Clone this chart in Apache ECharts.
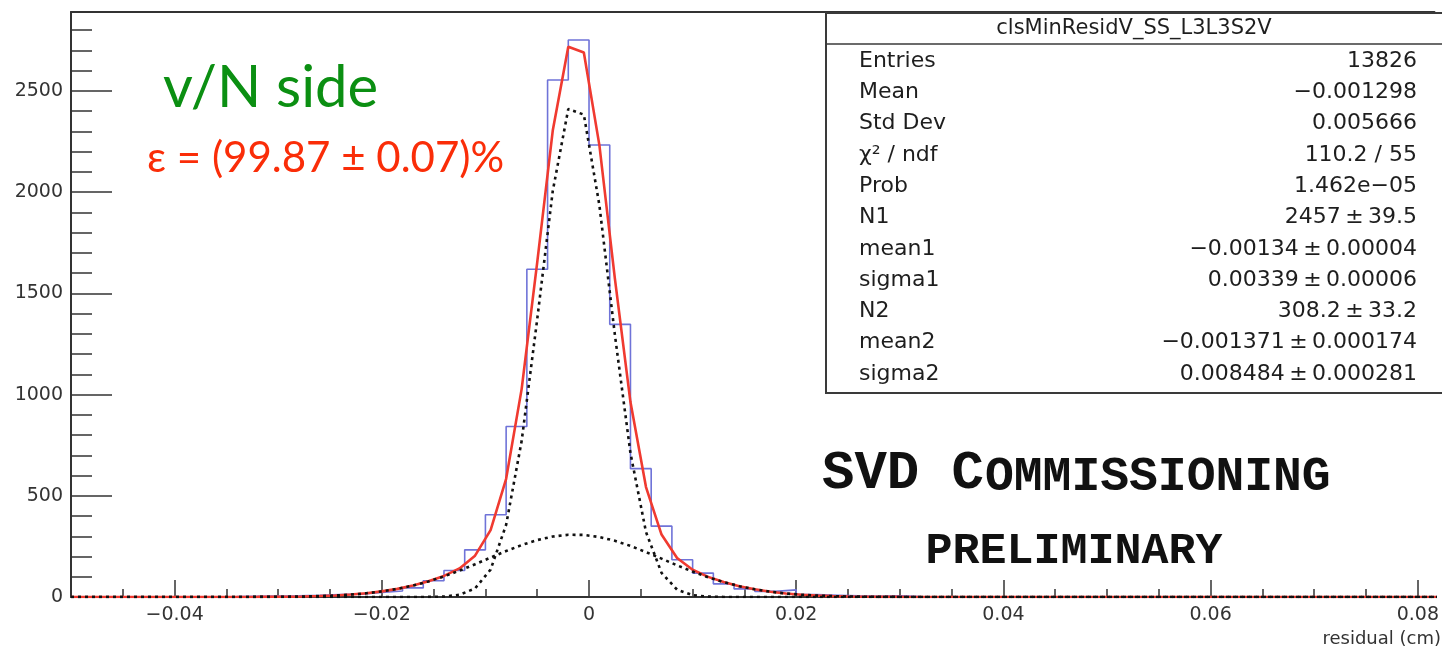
<!DOCTYPE html>
<html>
<head>
<meta charset="utf-8">
<script src="https://cdn.jsdelivr.net/npm/echarts@6.0.0/dist/echarts.min.js"></script>
<style>
  html, body { margin: 0; padding: 0; background: #ffffff; }
  #chart { width: 1442px; height: 650px; }
</style>
</head>
<body>
<div id="chart"></div>
<script>
// Residual histogram (bin width 0.002 cm): lower bin edges and counts
const histLowEdges = [-0.040, -0.038, -0.036, -0.034, -0.032, -0.030, -0.028, -0.026, -0.024, -0.022,
                      -0.020, -0.018, -0.016, -0.014, -0.012, -0.010, -0.008, -0.006, -0.004, -0.002,
                       0.000,  0.002,  0.004,  0.006,  0.008,  0.010,  0.012,  0.014,  0.016,  0.018,
                       0.020,  0.022,  0.024,  0.026,  0.028,  0.030,  0.032];
const histCounts   = [0, 1, 2, 4, 5, 6, 8, 12, 14, 22,
                      30, 45, 80, 131, 233, 406, 842, 1619, 2554, 2752,
                      2233, 1347, 634, 350, 184, 118, 65, 40, 28, 35,
                      12, 9, 6, 4, 6, 2, 0];
const histRange = [-0.05, 0.1];

// Double-gaussian fit as drawn (polyline samples): total, narrow core and wide tail
const fitX = [-0.05, -0.035, -0.0335, -0.032, -0.0305, -0.029, -0.0275, -0.026, -0.0245, -0.023,
              -0.0215, -0.020, -0.0185, -0.017, -0.0155, -0.014, -0.0125, -0.011, -0.0095, -0.008,
              -0.0065, -0.005, -0.0035, -0.002, -0.0005, 0.001, 0.0025, 0.004, 0.0055, 0.007,
              0.0085, 0.010, 0.0115, 0.013, 0.0145, 0.016, 0.0175, 0.019, 0.0205, 0.022,
              0.0235, 0.025, 0.0265, 0.028, 0.0295, 0.031, 0.1];
const fitTotal = [0, 0.1, 0.2, 0.5, 0.9, 1.5, 2.7, 4.6, 7.5, 12.0,
                  18.5, 27.7, 40.1, 56.6, 77.4, 104.1, 141.3, 204.2, 330.4, 583.8,
                  1028.2, 1653.3, 2304.3, 2718.4, 2689.6, 2232.4, 1571.3, 962.8, 542.9, 308.5,
                  193.0, 134.6, 99.4, 73.7, 53.6, 37.9, 26.0, 17.3, 11.1, 6.9,
                  4.2, 2.5, 1.4, 0.8, 0.4, 0.2, 0];
const fitCore = [0, 0, 0, 0, 0, 0, 0, 0, 0, 0,
                 0, 0, 0, 0.1, 0.4, 2.3, 10.9, 42.4, 135.6, 356.7,
                 771.5, 1372, 2005.7, 2411, 2383, 1936, 1293.6, 710.6, 320.9, 119.1,
                 36.4, 9.1, 1.9, 0.3, 0, 0, 0, 0, 0, 0,
                 0, 0, 0, 0, 0, 0, 0];
const fitTail = [0, 0.1, 0.2, 0.5, 0.9, 1.5, 2.7, 4.6, 7.5, 12.0,
                 18.5, 27.7, 40.1, 56.5, 77.0, 101.8, 130.4, 161.8, 194.8, 227.1,
                 256.7, 281.3, 298.6, 307.4, 306.6, 296.4, 277.7, 252.2, 222.0, 189.4,
                 156.6, 125.5, 97.5, 73.4, 53.6, 37.9, 26.0, 17.3, 11.1, 6.9,
                 4.2, 2.5, 1.4, 0.8, 0.4, 0.2, 0];

// Axis ticks and labels
const xMajorTicks = [-0.04, -0.02, 0, 0.02, 0.04, 0.06, 0.08];
const xTickLabels = ['\u22120.04', '\u22120.02', '0', '0.02', '0.04', '0.06', '0.08'];
const xMinorTicks = [-0.045, -0.035, -0.03, -0.025, -0.015, -0.01, -0.005, 0.005, 0.01, 0.015,
                     0.025, 0.03, 0.035, 0.045, 0.05, 0.055, 0.065, 0.07, 0.075];
const yMajorTicks = [0, 500, 1000, 1500, 2000, 2500];
const yTickLabels = ['0', '500', '1000', '1500', '2000', '2500'];
const yMinorTicks = [100, 200, 300, 400, 600, 700, 800, 900, 1100, 1200, 1300, 1400,
                     1600, 1700, 1800, 1900, 2100, 2200, 2300, 2400, 2600, 2700, 2800];
const xAxisTitle = 'residual (cm)';

// Statistics box
const statTitle = 'clsMinResidV_SS_L3L3S2V';
const statLabels = ['Entries', 'Mean', 'Std Dev', '\u03c7\u00b2 / ndf', 'Prob', 'N1',
                    'mean1', 'sigma1', 'N2', 'mean2', 'sigma2'];
const statValues = ['13826', '\u22120.001298', '0.005666', '110.2 / 55', '1.462e\u221205',
                    '2457\u2009\u00b1\u200939.5', '\u22120.00134\u2009\u00b1\u20090.00004',
                    '0.00339\u2009\u00b1\u20090.00006', '308.2\u2009\u00b1\u200933.2',
                    '\u22120.001371\u2009\u00b1\u20090.000174', '0.008484\u2009\u00b1\u20090.000281'];

// Annotations
const sideLabel = 'v/N side';
const efficiencyLabel = '\u03b5 = (99.87 \u00b1 0.07)%';
const stampBig = 'SVD C';
const stampSmall = 'OMMISSIONING';
const stampSub = 'PRELIMINARY';

const X_MIN = -0.05, X_MAX = 0.0816, Y_MIN = 0, Y_MAX = 2890;
const AXIS_COLOR = '#333333';
const LABEL_FONT = "'DejaVu Sans', sans-serif";

const histData = [[histRange[0], 0]]
  .concat(histLowEdges.map((e, i) => [e, histCounts[i]]))
  .concat([[histRange[1], 0]]);
const toPairs = (ys) => fitX.map((x, i) => [x, ys[i]]);

function xLabel(v) {
  const i = xMajorTicks.findIndex(t => Math.abs(t - v) < 1e-9);
  return i >= 0 ? xTickLabels[i] : '';
}
function yLabel(v) {
  const i = yMajorTicks.findIndex(t => Math.abs(t - v) < 1e-6);
  return i >= 0 ? yTickLabels[i] : '';
}

const chart = echarts.init(document.getElementById('chart'), null, { renderer: 'canvas' });

// stats box elements
const statElems = [
  { type: 'rect', z: 50, shape: { x: 826, y: 13, width: 640, height: 380 },
    style: { fill: '#ffffff', stroke: '#3a3a3a', lineWidth: 2 } },
  { type: 'line', z: 51, shape: { x1: 826, y1: 44, x2: 1460, y2: 44 },
    style: { stroke: '#3a3a3a', lineWidth: 1.5 } },
  { type: 'text', z: 52, x: 1134, y: 29,
    style: { text: statTitle, fill: '#1e1e1e', font: "21px " + LABEL_FONT,
             align: 'center', textAlign: 'center', verticalAlign: 'middle', textVerticalAlign: 'middle' } }
];
statLabels.forEach((lab, i) => {
  const y = 61 + 31.3 * i;
  statElems.push({ type: 'text', z: 52, x: 859, y: y,
    style: { text: lab, fill: '#1e1e1e', font: "22px " + LABEL_FONT,
             align: 'left', textAlign: 'left', verticalAlign: 'middle', textVerticalAlign: 'middle' } });
  statElems.push({ type: 'text', z: 52, x: 1417, y: y,
    style: { text: statValues[i], fill: '#1e1e1e', font: "22px " + LABEL_FONT,
             align: 'right', textAlign: 'right', verticalAlign: 'middle', textVerticalAlign: 'middle' } });
});

const annotationElems = [
  { type: 'text', z: 40, x: 163, y: 88,
    style: { text: sideLabel, fill: '#0b8f12', font: "58px Lato, 'Open Sans', sans-serif",
             align: 'left', textAlign: 'left', verticalAlign: 'middle', textVerticalAlign: 'middle' } },
  { type: 'text', z: 40, x: 147, y: 158,
    style: { text: efficiencyLabel, fill: '#fa2d08', font: "42px Lato, 'Open Sans', sans-serif",
             align: 'left', textAlign: 'left', verticalAlign: 'middle', textVerticalAlign: 'middle' } },
  { type: 'text', z: 40, x: 822, y: 474,
    style: { text: stampBig, fill: '#111111', font: "bold 54px 'Liberation Mono', monospace",
             align: 'left', textAlign: 'left', verticalAlign: 'middle', textVerticalAlign: 'middle' } },
  { type: 'text', z: 40, x: 985, y: 478,
    style: { text: stampSmall, fill: '#111111', font: "bold 48px 'Liberation Mono', monospace",
             align: 'left', textAlign: 'left', verticalAlign: 'middle', textVerticalAlign: 'middle' } },
  { type: 'text', z: 40, x: 1074, y: 552,
    style: { text: stampSub, fill: '#111111', font: "bold 45px 'Liberation Mono', monospace",
             align: 'center', textAlign: 'center', verticalAlign: 'middle', textVerticalAlign: 'middle' } },
  { type: 'text', z: 40, x: 1441, y: 639,
    style: { text: xAxisTitle, fill: '#333333', font: "18px " + LABEL_FONT,
             align: 'right', textAlign: 'right', verticalAlign: 'middle', textVerticalAlign: 'middle' } }
];

const option = {
  animation: false,
  backgroundColor: '#ffffff',
  grid: { left: 71, right: 0, top: 12, bottom: 53, containLabel: false },
  xAxis: [
    { type: 'value', position: 'bottom', min: X_MIN, max: X_MAX,
      axisLine: { show: true, onZero: false, lineStyle: { color: AXIS_COLOR, width: 2 } },
      axisTick: { show: true, inside: true, length: 17, customValues: xMajorTicks,
                  lineStyle: { color: AXIS_COLOR, width: 1.5 } },
      axisLabel: { show: true, customValues: xMajorTicks, formatter: xLabel, margin: 9,
                   fontFamily: LABEL_FONT, fontSize: 19, color: '#333333' },
      splitLine: { show: false } },
    { type: 'value', position: 'bottom', min: X_MIN, max: X_MAX,
      axisLine: { show: false, onZero: false },
      axisTick: { show: true, inside: true, length: 8, customValues: xMinorTicks,
                  lineStyle: { color: AXIS_COLOR, width: 1.5 } },
      axisLabel: { show: false }, splitLine: { show: false } },
    { type: 'value', position: 'top', min: X_MIN, max: X_MAX,
      axisLine: { show: true, onZero: false, lineStyle: { color: AXIS_COLOR, width: 2 } },
      axisTick: { show: false }, axisLabel: { show: false }, splitLine: { show: false } }
  ],
  yAxis: [
    { type: 'value', position: 'left', min: Y_MIN, max: Y_MAX,
      axisLine: { show: true, onZero: false, lineStyle: { color: AXIS_COLOR, width: 2 } },
      axisTick: { show: true, inside: true, length: 41, customValues: yMajorTicks,
                  lineStyle: { color: AXIS_COLOR, width: 1.5 } },
      axisLabel: { show: true, customValues: yMajorTicks, formatter: yLabel, margin: 8,
                   fontFamily: LABEL_FONT, fontSize: 19, color: '#333333' },
      splitLine: { show: false } },
    { type: 'value', position: 'left', min: Y_MIN, max: Y_MAX,
      axisLine: { show: false, onZero: false },
      axisTick: { show: true, inside: true, length: 21, customValues: yMinorTicks,
                  lineStyle: { color: AXIS_COLOR, width: 1.5 } },
      axisLabel: { show: false }, splitLine: { show: false } }
  ],
  series: [
    { name: 'residual', type: 'line', xAxisIndex: 0, yAxisIndex: 0, data: histData,
      step: 'end', symbol: 'none', z: 2,
      lineStyle: { color: '#6f73d8', width: 1.6 } },
    { name: 'fit', type: 'line', xAxisIndex: 0, yAxisIndex: 0, data: toPairs(fitTotal),
      symbol: 'none', smooth: false, z: 3,
      lineStyle: { color: '#f03a30', width: 2.6 } },
    { name: 'core', type: 'line', xAxisIndex: 0, yAxisIndex: 0, data: toPairs(fitCore),
      symbol: 'none', smooth: false, z: 4,
      lineStyle: { color: '#111111', width: 2.6, type: [3, 4] } },
    { name: 'tail', type: 'line', xAxisIndex: 0, yAxisIndex: 0, data: toPairs(fitTail),
      symbol: 'none', smooth: false, z: 4,
      lineStyle: { color: '#111111', width: 2.6, type: [3, 4] } }
  ],
  graphic: { elements: statElems.concat(annotationElems) }
};

chart.setOption(option);
</script>
</body>
</html>
